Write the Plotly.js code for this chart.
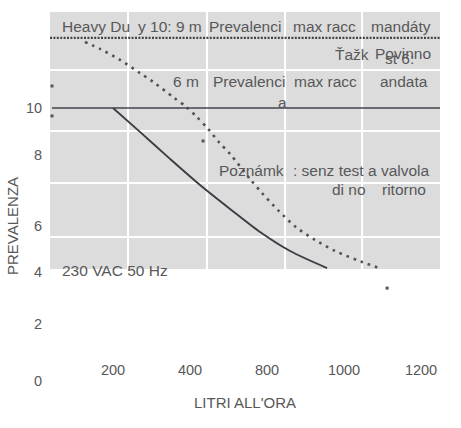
<!DOCTYPE html>
<html>
<head>
<meta charset="utf-8">
<script src="https://cdn.plot.ly/plotly-3.0.1.min.js"></script>
<style>
  html, body { margin: 0; padding: 0; background: #ffffff; }
  #chart { width: 461px; height: 428px; }
</style>
</head>
<body>
<div id="chart"></div>
<script>
// ---- data ----
const flowTickVals = [200, 400, 600, 800, 1000];
const flowTickLabels = ['200', '400', '800', '1000', '1200'];
const headTickVals = [0.07, 2.15, 4.04, 5.71, 8.29, 10];
const headTickLabels = ['0', '2', '4', '6', '8', '10'];

// solid pump curve
const solidFlow = [200, 270, 348, 426, 504, 582, 660, 756];
const solidHead = [10.0, 9.13, 8.15, 7.2, 6.33, 5.49, 4.8, 4.18];

// dotted pump curve
const dottedFlow = [127, 166, 218, 270, 304, 356, 390, 418, 447, 475, 504, 558, 587, 631, 675, 725, 777, 834, 891];
const dottedHead = [12.4, 12.15, 11.75, 11.27, 10.95, 10.4, 10.04, 9.67, 9.24, 8.76, 8.33, 7.38, 6.91, 6.25, 5.67, 5.2, 4.8, 4.47, 4.18];

// stray specks
const speckFlow = [41.6, 41.6, 434, 912];
const speckHead = [10.8, 9.71, 8.8, 3.45];

// reference levels
const maxHead = 12.55;
const refHead = 10;

// panel grid
const gridFlow = [239, 444, 647, 847];
const gridHead = [11.38, 9.16, 7.27, 5.31];
const panelFloor = 4.145;

const xRange = [36.36, 1049.35];
const yRange = [-0.255, 13.49];

// ---- layout helpers ----
const W = 461, H = 428;
const M = { l: 50, r: 21, t: 12, b: 38 };
const pw = W - M.l - M.r, ph = H - M.t - M.b;
const pxX = x => (x - M.l) / pw;
const pxY = y => (H - M.b - y) / ph;

const textColor = '#585858';
const FONT = 'Liberation Sans, Arial, sans-serif';

const labels = [
  ['Heavy Du', 62, 26],
  ['y 10: 9 m', 138, 26],
  ['Prevalenci', 209, 26],
  ['max racc', 293, 26],
  ['mandáty', 371, 26],
  ['Ťažk', 335, 54],
  ['Povinno', 375, 53],
  ['st 6:', 385, 59],
  ['6 m', 173, 81],
  ['Prevalenci', 213, 81],
  ['a', 278, 102],
  ['max racc', 294, 81],
  ['andata', 380, 81],
  ['Poznámk', 219, 171],
  [': senz test', 293, 171],
  ['a valvola', 368, 171],
  ['di no', 332, 189],
  ['ritorno', 382, 189],
  ['230 VAC 50 Hz', 62, 270]
];

const annotations = labels.map(([t, x, y]) => ({
  text: t, xref: 'paper', yref: 'paper', x: pxX(x - 2), y: pxY(y),
  xanchor: 'left', yanchor: 'middle', showarrow: false,
  font: { family: FONT, size: 15.5, color: textColor }
}));
annotations.push({
  text: 'PREVALENZA', xref: 'paper', yref: 'paper', x: pxX(12), y: pxY(226),
  xanchor: 'center', yanchor: 'middle', showarrow: false, textangle: -90,
  font: { family: FONT, size: 15, color: textColor }
});

const shapes = [];
shapes.push({ type: 'rect', layer: 'below', xref: 'paper', yref: 'y', x0: 0, x1: 1, y0: panelFloor, y1: yRange[1],
  fillcolor: '#dcdcdd', line: { width: 0 } });
gridFlow.forEach(v => shapes.push({ type: 'line', layer: 'below', xref: 'x', yref: 'y', x0: v, x1: v, y0: panelFloor, y1: yRange[1],
  line: { color: '#ffffff', width: 2 } }));
gridHead.forEach(v => shapes.push({ type: 'line', layer: 'below', xref: 'paper', yref: 'y', x0: 0, x1: 1, y0: v, y1: v,
  line: { color: '#ffffff', width: 2 } }));
shapes.push({ type: 'line', layer: 'above', xref: 'paper', yref: 'y', x0: 0.005, x1: 1, y0: refHead, y1: refHead,
  line: { color: '#44444c', width: 1.6 } });
shapes.push({ type: 'line', layer: 'above', xref: 'paper', yref: 'y', x0: 0, x1: 1, y0: maxHead, y1: maxHead,
  line: { color: '#444444', width: 2.2, dash: '2px,1.4px' } });

const traces = [
  { x: solidFlow, y: solidHead, type: 'scatter', mode: 'lines',
    line: { color: '#3c3c44', width: 1.9, shape: 'spline', smoothing: 0.8 }, hoverinfo: 'skip' },
  { x: dottedFlow, y: dottedHead, type: 'scatter', mode: 'lines',
    line: { color: '#505058', width: 2.6, dash: '2.6px,5px', shape: 'spline', smoothing: 0.8 }, hoverinfo: 'skip' },
  { x: speckFlow, y: speckHead, type: 'scatter', mode: 'markers',
    marker: { color: '#55555c', size: 3, symbol: 'square' }, hoverinfo: 'skip' }
];

const layout = {
  width: W, height: H,
  margin: { l: M.l, r: M.r, t: M.t, b: M.b, pad: 0 },
  paper_bgcolor: '#ffffff', plot_bgcolor: 'rgba(0,0,0,0)',
  showlegend: false,
  font: { family: FONT, color: textColor },
  xaxis: {
    range: xRange, anchor: 'free', position: pxY(359),
    showgrid: false, zeroline: false, showline: false, ticks: '',
    tickvals: flowTickVals, ticktext: flowTickLabels,
    tickfont: { family: FONT, size: 14.5, color: textColor },
    title: { text: "LITRI ALL'ORA", font: { family: FONT, size: 15, color: textColor }, standoff: 20 }
  },
  yaxis: {
    range: yRange,
    showgrid: false, zeroline: false, showline: false,
    ticks: 'outside', ticklen: 4, tickcolor: 'rgba(0,0,0,0)',
    tickvals: headTickVals, ticktext: headTickLabels,
    tickfont: { family: FONT, size: 14.5, color: textColor }
  },
  shapes: shapes,
  annotations: annotations
};

Plotly.newPlot('chart', traces, layout, { displayModeBar: false, staticPlot: true });
</script>
</body>
</html>
